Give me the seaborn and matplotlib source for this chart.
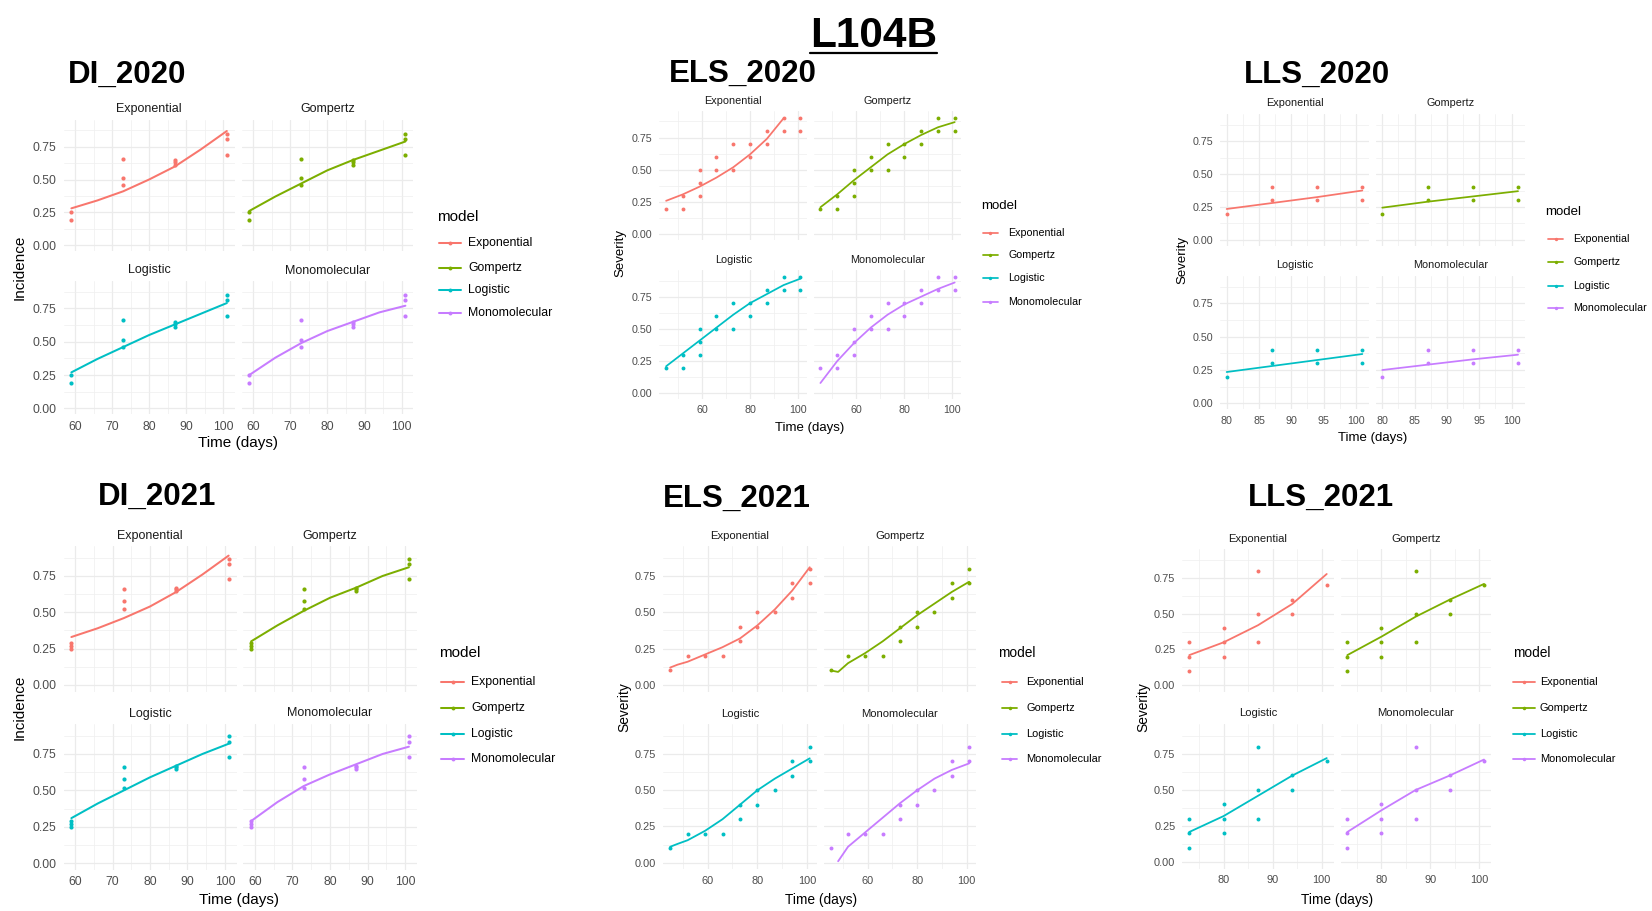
import numpy as np
import pandas as pd
import matplotlib
matplotlib.use("Agg")
import matplotlib.pyplot as plt
from matplotlib.lines import Line2D
import seaborn as sns

W, H = 1652, 911
sns.set_theme(style="white")
plt.rcParams["font.family"] = ["Liberation Sans", "DejaVu Sans"]

MODELS = ["Exponential", "Gompertz", "Logistic", "Monomolecular"]
COLORS = ["#F8766D", "#7CAE00", "#00BFC4", "#C77CFF"]
PALETTE = dict(zip(MODELS, COLORS))

Y_LIMITS = (0.0, 0.91)
Y_BREAKS = [0.0, 0.25, 0.50, 0.75]
Y_LABELS = ["0.00", "0.25", "0.50", "0.75"]

# ---------------- DI 2020 (incidence) ----------------
di20_obs_time = [59, 59, 73, 73, 73, 87, 87, 87, 101, 101, 101]
di20_obs_value = [0.25, 0.19, 0.66, 0.51, 0.46, 0.65, 0.63, 0.61, 0.85, 0.81, 0.69]
di20_fit_time = [59, 66, 73, 80, 87, 94, 101]
di20_fit_exp = [0.28, 0.34, 0.41, 0.50, 0.60, 0.73, 0.87]
di20_fit_gom = [0.26, 0.37, 0.47, 0.57, 0.65, 0.72, 0.79]
di20_fit_log = [0.27, 0.37, 0.46, 0.55, 0.63, 0.71, 0.79]
di20_fit_mon = [0.25, 0.38, 0.49, 0.58, 0.65, 0.72, 0.77]

# ---------------- ELS 2020 (severity) ----------------
els20_obs_time = [45, 52, 52, 59, 59, 59, 66, 66, 73, 73, 80, 80, 87, 87, 94, 94, 101, 101]
els20_obs_value = [0.2, 0.3, 0.2, 0.5, 0.4, 0.3, 0.6, 0.5, 0.7, 0.5, 0.7, 0.6, 0.8, 0.7, 0.9, 0.8, 0.9, 0.8]
els20_fit_time = [45, 52, 59, 66, 73, 80, 87, 94, 101]
els20_fit_exp = [0.26, 0.31, 0.37, 0.44, 0.52, 0.62, 0.74, 0.90, 1.08]
els20_fit_gom = [0.21, 0.31, 0.42, 0.52, 0.62, 0.70, 0.77, 0.83, 0.87]
els20_fit_log = [0.21, 0.31, 0.41, 0.51, 0.61, 0.70, 0.77, 0.84, 0.89]
els20_fit_mon = [0.08, 0.25, 0.39, 0.51, 0.61, 0.69, 0.75, 0.81, 0.86]

# ---------------- LLS 2020 (severity) ----------------
lls20_obs_time = [80, 87, 87, 94, 94, 101, 101]
lls20_obs_value = [0.2, 0.4, 0.3, 0.4, 0.3, 0.4, 0.3]
lls20_fit_time = [80, 87, 94, 101]
lls20_fit_exp = [0.235, 0.28, 0.325, 0.375]
lls20_fit_gom = [0.245, 0.29, 0.33, 0.37]
lls20_fit_log = [0.235, 0.28, 0.325, 0.37]
lls20_fit_mon = [0.25, 0.29, 0.33, 0.365]

# ---------------- DI 2021 (incidence) ----------------
di21_obs_time = [59, 59, 59, 73, 73, 73, 87, 87, 87, 101, 101, 101]
di21_obs_value = [0.29, 0.27, 0.25, 0.66, 0.58, 0.52, 0.67, 0.66, 0.65, 0.87, 0.83, 0.73]
di21_fit_time = [59, 66, 73, 80, 87, 94, 101]
di21_fit_exp = [0.33, 0.39, 0.46, 0.54, 0.64, 0.76, 0.89]
di21_fit_gom = [0.30, 0.41, 0.51, 0.60, 0.67, 0.75, 0.81]
di21_fit_log = [0.31, 0.41, 0.50, 0.59, 0.67, 0.75, 0.82]
di21_fit_mon = [0.29, 0.42, 0.53, 0.61, 0.68, 0.75, 0.80]

# ---------------- ELS 2021 (severity) ----------------
els21_obs_time = [45, 52, 59, 66, 73, 73, 80, 80, 87, 94, 94, 101, 101]
els21_obs_value = [0.1, 0.2, 0.2, 0.2, 0.4, 0.3, 0.5, 0.4, 0.5, 0.7, 0.6, 0.8, 0.7]
els21_fit_time = [45, 48, 52, 59, 66, 73, 80, 87, 94, 101]
els21_fit_exp = [0.12, 0.14, 0.16, 0.21, 0.26, 0.32, 0.41, 0.52, 0.65, 0.81]
els21_fit_gom = [0.10, 0.09, 0.15, 0.22, 0.30, 0.39, 0.48, 0.56, 0.64, 0.71]
els21_fit_log = [0.11, 0.13, 0.155, 0.22, 0.30, 0.40, 0.50, 0.58, 0.65, 0.72]
els21_fit_mon = [-0.08, 0.01, 0.11, 0.21, 0.31, 0.41, 0.50, 0.58, 0.64, 0.685]

# ---------------- LLS 2021 (severity) ----------------
lls21_obs_time = [73, 73, 73, 80, 80, 80, 87, 87, 87, 94, 94, 101]
lls21_obs_value = [0.3, 0.2, 0.1, 0.4, 0.3, 0.2, 0.8, 0.5, 0.3, 0.6, 0.5, 0.7]
lls21_fit_time = [73, 80, 87, 94, 101]
lls21_fit_exp = [0.21, 0.30, 0.42, 0.57, 0.78]
lls21_fit_gom = [0.21, 0.34, 0.48, 0.60, 0.71]
lls21_fit_log = [0.21, 0.32, 0.46, 0.60, 0.72]
lls21_fit_mon = [0.21, 0.36, 0.50, 0.60, 0.71]

fig = plt.figure(figsize=(W / 100, H / 100), dpi=100)
fig.patch.set_facecolor("white")


def fx(px):
    return px / W


def fy(py):
    return 1 - py / H


def expand(lo, hi, mult=0.05):
    pad = (hi - lo) * mult
    return lo - pad, hi + pad


def minor_breaks(major, lim):
    step = major[1] - major[0]
    cand = np.arange(major[0] - step / 2, major[-1] + step, step)
    return [c for c in cand if lim[0] <= c <= lim[1]]


def draw_block(b):
    k = b["scale"]
    obs = pd.DataFrame({"time": b["obs_time"], "value": b["obs_value"]})
    fit = pd.concat(
        [pd.DataFrame({"time": b["fit_time"], "value": v, "model": m})
         for m, v in zip(MODELS, b["fits"])],
        ignore_index=True,
    )
    # values outside the y scale limits are dropped, as with scale limits
    fit = fit[(fit["value"] >= Y_LIMITS[0]) & (fit["value"] <= Y_LIMITS[1])]

    xlim = expand(min(b["obs_time"]), max(b["obs_time"]))
    ylim = expand(*Y_LIMITS)
    xmajor = [t for t in b["xbreaks"] if xlim[0] <= t <= xlim[1]]
    xminor = minor_breaks(b["xbreaks"], xlim)
    yminor = minor_breaks(Y_BREAKS, ylim)

    for i, m in enumerate(MODELS):
        r, c = divmod(i, 2)
        x0, x1 = b["cols"][c]
        top, bot = b["rows"][r]
        ax = fig.add_axes([fx(x0), fy(bot), fx(x1) - fx(x0), (bot - top) / H])
        sub = fit[fit["model"] == m]
        sns.scatterplot(data=obs, x="time", y="value", color=PALETTE[m], s=9 * k,
                        linewidth=0, ax=ax, zorder=3)
        sns.lineplot(data=sub, x="time", y="value", color=PALETTE[m], lw=1.45 * k,
                     estimator=None, sort=True, ax=ax, zorder=4)
        ax.set_xlim(xlim)
        ax.set_ylim(ylim)
        ax.set_xticks(xmajor)
        ax.set_xticks(xminor, minor=True)
        ax.set_xticklabels([str(t) for t in xmajor])
        ax.set_yticks(Y_BREAKS)
        ax.set_yticks(yminor, minor=True)
        ax.set_yticklabels(Y_LABELS)
        ax.grid(which="major", color="#EBEBEB", lw=0.9)
        ax.grid(which="minor", color="#EFEFEF", lw=0.5)
        ax.set_axisbelow(True)
        ax.set_facecolor("white")
        for s in ax.spines.values():
            s.set_visible(False)
        ax.tick_params(which="both", length=0, labelsize=8.8 * k, labelcolor="#4D4D4D")
        ax.tick_params(axis="x", pad=4.5)
        ax.tick_params(axis="y", pad=5)
        ax.tick_params(axis="x", labelbottom=(r == 1))
        ax.tick_params(axis="y", labelleft=(c == 0))
        ax.set_xlabel("")
        ax.set_ylabel("")
        # facet strip label
        fig.text(fx((x0 + x1) / 2), fy(top - 10.5), m, ha="center", va="center",
                 fontsize=9.0 * k, color="#1A1A1A")

    # block title
    tx, tby = b["title_pos"]
    fig.text(fx(tx), fy(tby), b["title"], ha="left", va="baseline",
             fontsize=22.5, fontweight="bold", color="black")
    # axis titles
    xlx, xly = b["xlabel_pos"]
    fig.text(fx(xlx), fy(xly), "Time (days)", ha="center", va="center",
             fontsize=11 * k, color="black")
    ylx, yly = b["ylabel_pos"]
    fig.text(fx(ylx), fy(yly), b["ylabel"], ha="center", va="center",
             rotation=90, fontsize=11 * k, color="black")

    # legend
    lg = b["legend"]
    fig.text(fx(lg["title_x"]), fy(lg["title_y"]), "model", ha="left", va="center",
             fontsize=11 * k, color="black")
    for m, y in zip(MODELS, lg["ys"]):
        fig.add_artist(Line2D([fx(lg["key"][0]), fx(lg["key"][1])], [fy(y), fy(y)],
                              transform=fig.transFigure, color=PALETTE[m], lw=1.45 * k))
        fig.add_artist(Line2D([fx((lg["key"][0] + lg["key"][1]) / 2)], [fy(y)],
                              transform=fig.transFigure, color=PALETTE[m], ls="none",
                              marker="o", ms=2.8 * k, mew=0))
        fig.text(fx(lg["text_x"]), fy(y), m, ha="left", va="center",
                 fontsize=8.8 * k, color="black")


blocks = [
    dict(title="DI_2020", ylabel="Incidence", scale=1.0,
         obs_time=di20_obs_time, obs_value=di20_obs_value, fit_time=di20_fit_time,
         fits=[di20_fit_exp, di20_fit_gom, di20_fit_log, di20_fit_mon],
         xbreaks=[60, 70, 80, 90, 100],
         cols=[(63.6, 234.6), (241.5, 413.2)], rows=[(119.8, 251.0), (281.0, 414.4)],
         title_pos=(68, 83), xlabel_pos=(238, 443), ylabel_pos=(19.6, 267),
         legend=dict(title_x=437.5, title_y=217, ys=[243, 268, 290, 313],
                     key=(439, 461), text_x=468)),
    dict(title="ELS_2020", ylabel="Severity", scale=0.87,
         obs_time=els20_obs_time, obs_value=els20_obs_value, fit_time=els20_fit_time,
         fits=[els20_fit_exp, els20_fit_gom, els20_fit_log, els20_fit_mon],
         xbreaks=[40, 60, 80, 100],
         cols=[(659.4, 807.1), (813.7, 961.4)], rows=[(111.1, 240.2), (270.2, 399.2)],
         title_pos=(668.8, 82), xlabel_pos=(810, 428), ylabel_pos=(620.6, 253),
         legend=dict(title_x=981, title_y=206, ys=[233, 255, 278, 302],
                     key=(983, 998), text_x=1008)),
    dict(title="LLS_2020", ylabel="Severity", scale=0.87,
         obs_time=lls20_obs_time, obs_value=lls20_obs_value, fit_time=lls20_fit_time,
         fits=[lls20_fit_exp, lls20_fit_gom, lls20_fit_log, lls20_fit_mon],
         xbreaks=[80, 85, 90, 95, 100],
         cols=[(1219.9, 1369.1), (1375.5, 1524.8)], rows=[(113.9, 246.0), (276.0, 409.4)],
         title_pos=(1244.3, 83), xlabel_pos=(1373, 438), ylabel_pos=(1182, 260),
         legend=dict(title_x=1545, title_y=212, ys=[239, 262, 286, 308],
                     key=(1548, 1563), text_x=1573)),
    dict(title="DI_2021", ylabel="Incidence", scale=1.0,
         obs_time=di21_obs_time, obs_value=di21_obs_value, fit_time=di21_fit_time,
         fits=[di21_fit_exp, di21_fit_gom, di21_fit_log, di21_fit_mon],
         xbreaks=[60, 70, 80, 90, 100],
         cols=[(63.5, 236.5), (243.2, 416.8)], rows=[(546.1, 691.6), (724.0, 870.0)],
         title_pos=(98.3, 505), xlabel_pos=(239, 900), ylabel_pos=(19.6, 707),
         legend=dict(title_x=439.3, title_y=653, ys=[682, 708, 734, 759],
                     key=(441, 464), text_x=471)),
    dict(title="ELS_2021", ylabel="Severity", scale=0.9,
         obs_time=els21_obs_time, obs_value=els21_obs_value, fit_time=els21_fit_time,
         fits=[els21_fit_exp, els21_fit_gom, els21_fit_log, els21_fit_mon],
         xbreaks=[40, 60, 80, 100],
         cols=[(663.2, 816.7), (823.8, 976.0)], rows=[(546.1, 691.6), (724.2, 869.3)],
         title_pos=(662.7, 507), xlabel_pos=(821, 900), ylabel_pos=(624.8, 707),
         legend=dict(title_x=998.4, title_y=653, ys=[682, 708, 734, 759],
                     key=(1002, 1017), text_x=1026.6)),
    dict(title="LLS_2021", ylabel="Severity", scale=0.9,
         obs_time=lls21_obs_time, obs_value=lls21_obs_value, fit_time=lls21_fit_time,
         fits=[lls21_fit_exp, lls21_fit_gom, lls21_fit_log, lls21_fit_mon],
         xbreaks=[80, 90, 100],
         cols=[(1182.4, 1333.6), (1340.5, 1490.8)], rows=[(549.0, 691.5), (724.0, 869.0)],
         title_pos=(1247.7, 506), xlabel_pos=(1337, 900), ylabel_pos=(1143, 707),
         legend=dict(title_x=1512.7, title_y=653, ys=[682, 708, 734, 759],
                     key=(1513, 1535), text_x=1540)),
]

for blk in blocks:
    draw_block(blk)

# overall heading, underlined
head = fig.text(fx(810), fy(47), "L104B", ha="left", va="baseline",
                fontsize=30.5, fontweight="bold", color="black")
fig.canvas.draw()
bb = head.get_window_extent(renderer=fig.canvas.get_renderer())
fig.add_artist(Line2D([bb.x0 / W, bb.x1 / W], [fy(53), fy(53)],
                      transform=fig.transFigure, color="black", lw=1.6))

fig.savefig("out.png", dpi=100, facecolor="white")
